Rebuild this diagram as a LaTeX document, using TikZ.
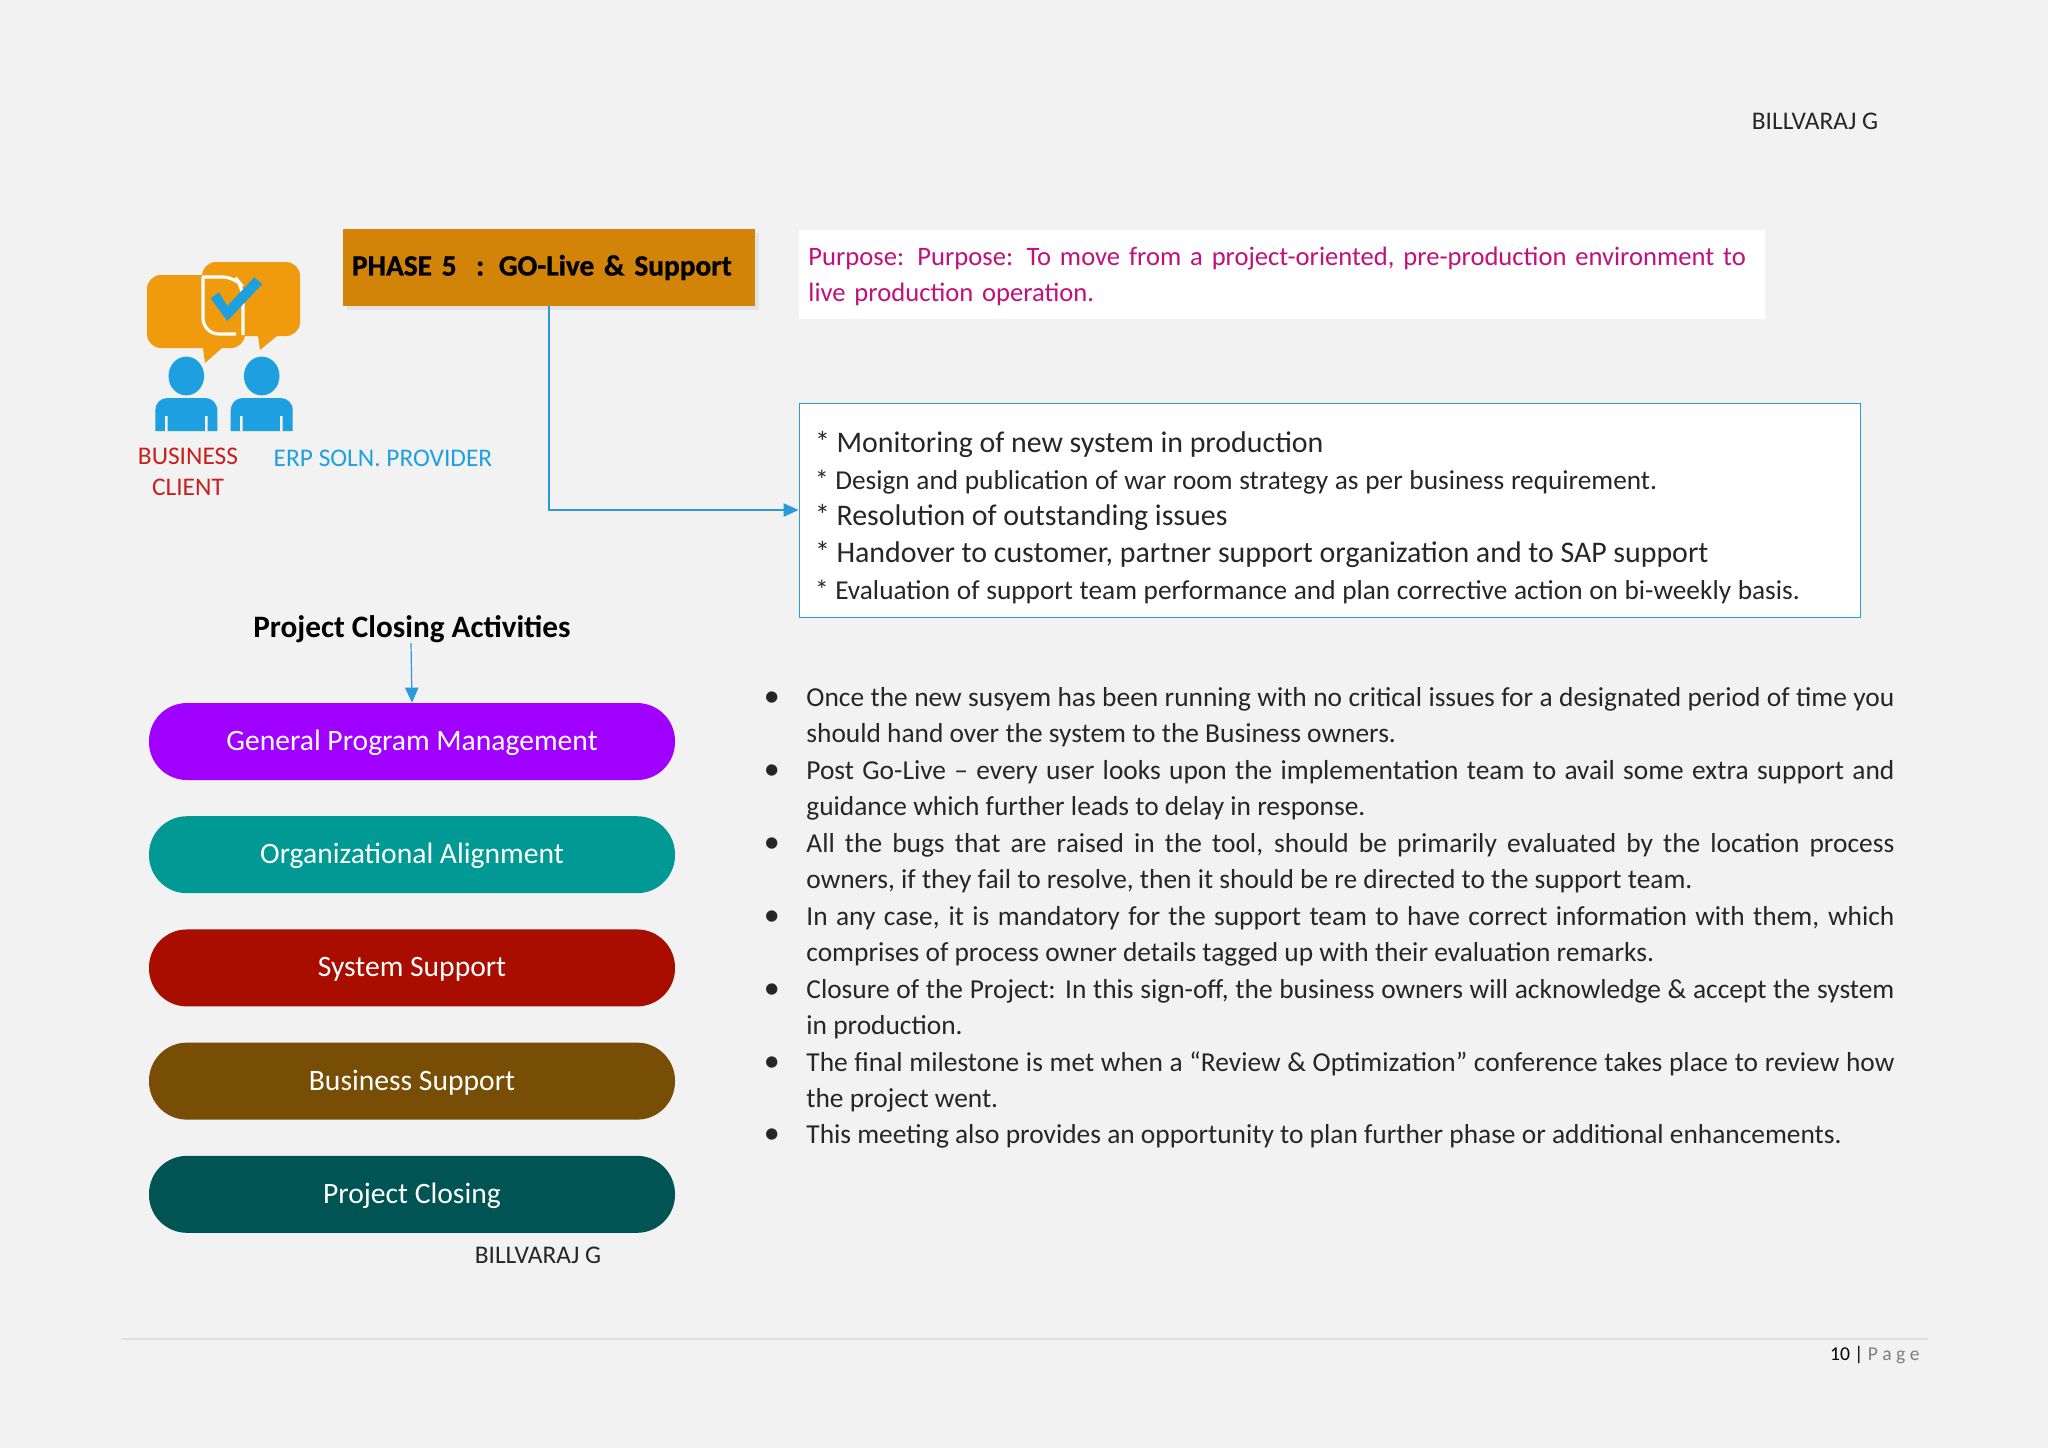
\documentclass[tikz,border=0pt]{standalone}
\usepackage{fontspec}
\setmainfont{Carlito}
\usepackage{xcolor}
\usetikzlibrary{arrows.meta, positioning}

\definecolor{pageback}{HTML}{F2F2F2}
\definecolor{iconorange}{HTML}{F09A0E}
\definecolor{iconblue}{HTML}{1E9FE0}
\definecolor{linkblue}{HTML}{2A9BD8}
\definecolor{phaseback}{HTML}{D18407}
\definecolor{purposetext}{HTML}{C2107A}
\definecolor{clientred}{HTML}{C8201E}

\newcommand{\biglist}{\fontsize{14.95}{18.45}\selectfont}
\newcommand{\smalllist}{\fontsize{13.65}{18.45}\selectfont}
\newcommand{\bul}{\leavevmode\llap{\fontsize{16}{16}\selectfont\textbullet\hspace{13.3pt}}}

\begin{document}
\begin{tikzpicture}[x=0.5pt, y=-0.5pt,
    pill/.style={rectangle, rounded corners=19pt, minimum width=263pt, minimum height=38.5pt,
        inner sep=0pt, text height=11pt, text depth=2pt, font=\fontsize{14.8}{18}\selectfont, text=white},
    plain/.style={inner sep=0pt, align=center, font=\fontsize{12.7}{15.5}\selectfont},
    arr/.style={-{Triangle[length=7.5pt,width=6.7pt]}, linkblue, line width=0.6pt},
    bubble/.style={fill=iconorange, rounded corners=7pt},
    person/.style={fill=iconblue, rounded corners=6pt},
    notch/.style={fill=pageback},
]
% Page
\fill[pageback] (0,0) rectangle (2048,1448);
\useasboundingbox (0,0) rectangle (2048,1448);

% Header
\node[plain, text=black!85] (HDR) at (1815,121) {BILLVARAJ G};

% Icon: two speech bubbles and two people
\fill[bubble] (202,262) -- (300,262) -- (300,336) [sharp corners] -- (277,336) -- (260,350) -- (258,336) [rounded corners=7pt] -- (202,336) -- cycle;
\fill[bubble] (147,275) -- (245,275) -- (245,348) [sharp corners] -- (222,348) -- (205,363) -- (203,348) [rounded corners=7pt] -- (147,348) -- cycle;
\draw[white, line width=1.6pt, rounded corners=6pt] (202,277) -- (235,277) -- (243,287) -- (243,335);
\draw[white, line width=1.6pt, rounded corners=8pt] (203,277) -- (203,334) -- (236,334);
\fill[iconblue] (210.7,298.3) -- (227.3,321) -- (262.3,284) -- (254.3,277.3) -- (227.3,306) -- (219,292.3) -- cycle;
\fill[iconblue] (186.3,376) ellipse [x radius=8.9pt, y radius=9.7pt];
\fill[iconblue] (261.7,376) ellipse [x radius=8.9pt, y radius=9.7pt];
\fill[person] (155.3,431) [sharp corners] -- (155.3,415) [rounded corners=6pt] -- (155.3,398) -- (217.3,398) -- (217.3,415) [sharp corners] -- (217.3,431) -- cycle;
\fill[person] (230.7,431) [sharp corners] -- (230.7,415) [rounded corners=6pt] -- (230.7,398) -- (292.7,398) -- (292.7,415) [sharp corners] -- (292.7,431) -- cycle;
\fill[notch] (165,416) rectangle (167.7,431) (205,416) rectangle (207.7,431);
\fill[notch] (240,416) rectangle (242.7,431) (280,416) rectangle (282.7,431);
\node[plain, text=clientred] (CLT) at (188,472) {BUSINESS\\CLIENT};
\node[plain, text=iconblue] (ERP) at (383,458) {ERP SOLN. PROVIDER};

% Phase title and purpose
\fill[black!6!pageback] (347,233) rectangle (759,310);
\node[rectangle, fill=phaseback, minimum width=206pt, minimum height=38.5pt, inner xsep=4.5pt, inner ysep=0pt,
    text width=197pt, align=left, font=\fontsize{14.65}{20}\bfseries\selectfont] (PH) at (549,267.5)
    {\addfontfeature{FakeBold=1}\mbox{PHASE 5~ : GO-Live \& Support}};
\node[rectangle, fill=white, text=purposetext, minimum width=483pt, minimum height=44.5pt, inner xsep=4.7pt, inner ysep=0pt,
    text width=473.6pt, align=left, font=\fontsize{13.3}{18.3}\selectfont] (PUR) at (1282,274.5)
    {\mbox{Purpose: Purpose: To move from a project-oriented, pre-production environment to}\\live production operation.\par\vspace*{-2pt}};

% Tasks
\node[rectangle, draw=linkblue, line width=0.5pt, fill=white, minimum height=107pt, inner xsep=8pt, inner ysep=0pt,
    text width=514.5pt, align=left, text=black!85] (LST) at (1329.5,510) {%
    \biglist * Monitoring of new system in production\par
    \smalllist * Design and publication of war room strategy as per business requirement.\par
    \biglist * Resolution of outstanding issues\par
    \biglist * Handover to customer, partner support organization and to SAP support\par
    \smalllist * Evaluation of support team performance and plan corrective action on bi-weekly basis.\par\vspace*{-7.5pt}};
\draw[arr] (PH.south) |- (LST.west);

% Activities
\node[plain, font=\fontsize{15.6}{18}\bfseries\selectfont] (PT) at (412,629) {Project Closing Activities};
\node[pill, fill={rgb,255:red,160;green,0;blue,255}] (GPM) at (412,741.5) {General Program Management};
\node[pill, fill={rgb,255:red,0;green,153;blue,148}, below=17.7pt of GPM] (OAL) {Organizational Alignment};
\node[pill, fill={rgb,255:red,168;green,13;blue,0}, below=17.7pt of OAL] (SYS) {System Support};
\node[pill, fill={rgb,255:red,120;green,77;blue,5}, below=17.7pt of SYS] (BUS) {Business Support};
\node[pill, fill={rgb,255:red,0;green,84;blue,84}, below=17.7pt of BUS] (PCL) {Project Closing};
\draw[arr] ([xshift=-0.5pt]PT.south) -- (GPM.north);
\node[plain, text=black!85] (SIG) at (538,1255) {BILLVARAJ G};

% Notes
\node[inner sep=0pt, text width=544pt, align=justify, anchor=north west, text=black!85,
    font=\fontsize{13.7}{18.23}\selectfont] (NOT) at (806,687) {%
    \bul Once the new susyem has been running with no critical issues for a designated period of time you\linebreak should hand over the system to the Business owners.\par
    \bul Post Go-Live – every user looks upon the implementation team to avail some extra support and\linebreak guidance which further leads to delay in response.\par
    \bul All the bugs that are raised in the tool, should be primarily evaluated by the location process\linebreak owners, if they fail to resolve, then it should be re directed to the support team.\par
    \bul In any case, it is mandatory for the support team to have correct information with them, which\linebreak comprises of process owner details tagged up with their evaluation remarks.\par
    \bul Closure of the Project: In this sign-off, the business owners will acknowledge \& accept the system\linebreak in production.\par
    \bul The final milestone is met when a “Review \& Optimization” conference takes place to review how\linebreak the project went.\par
    \bul This meeting also provides an opportunity to plan further phase or additional enhancements.};

% Footer
\coordinate (FL) at (121,1339);
\coordinate (FR) at (1928,1339);
\draw[black!12, line width=0.6pt] (FL) -- (FR);
\node[inner sep=0pt, anchor=east, font=\fontsize{9.8}{11}\selectfont] (PGE) at (1920,1355) {10 | \textcolor{black!50}{P a g e}};
\end{tikzpicture}
\end{document}
